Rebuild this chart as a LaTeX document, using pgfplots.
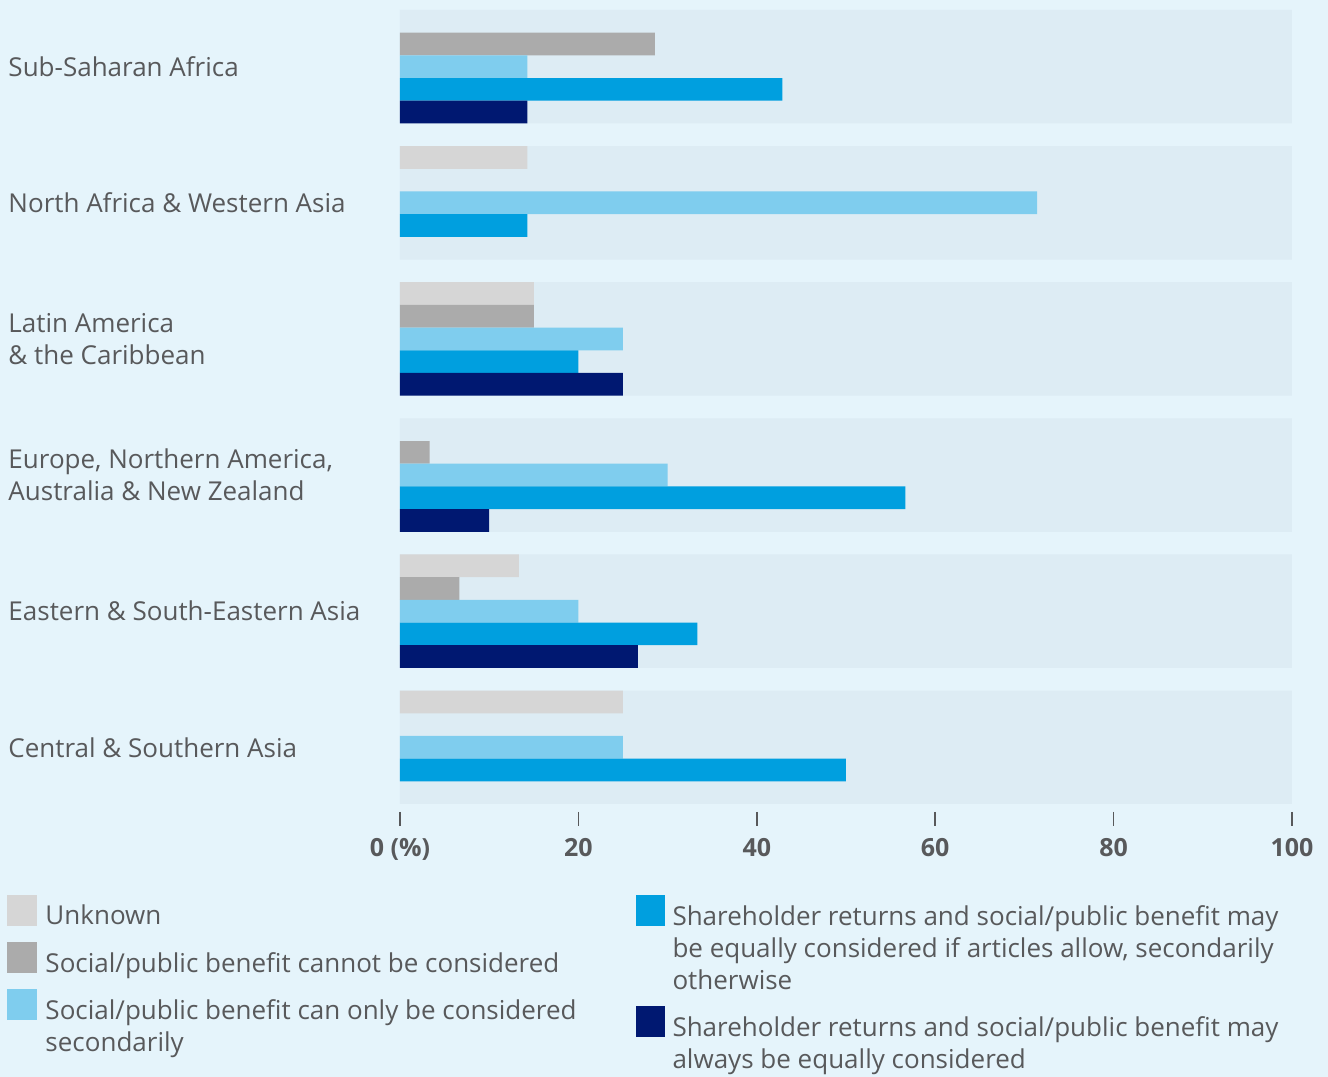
\documentclass[border=0pt]{standalone}
\usepackage{pgfplots}
\pgfplotsset{compat=1.18}
\usepackage{fontspec}
\setmainfont{Open Sans}
\definecolor{bgc}{HTML}{E5F4FB}
\definecolor{panel}{HTML}{DDECF4}
\definecolor{cunk}{HTML}{D6D6D6}
\definecolor{ccan}{HTML}{ABABAB}
\definecolor{csec}{HTML}{7FCDEE}
\definecolor{call}{HTML}{009FDF}
\definecolor{calw}{HTML}{001871}
\definecolor{txt}{HTML}{58595B}
\begin{document}
\begin{tikzpicture}[font=\fontsize{10.4}{12.8}\selectfont]
\fill[bgc] (0,0) rectangle (531.2pt,430.8pt);
\useasboundingbox (0,0) rectangle (531.2pt,430.8pt);
\begin{axis}[
  at={(160pt,109.2pt)}, anchor=south west,
  scale only axis, width=356.8pt, height=317.6pt,
  xmin=0, xmax=100, ymin=-2.5, ymax=32.5, y dir=reverse,
  axis line style={draw=none},
  xtick={0,20,40,60,80,100},
  xticklabels={0 (\%),20,40,60,80,100},
  ytick={0,6,12,18,24,30},
  yticklabels={Sub-Saharan Africa,North Africa \& Western Asia,Latin America\\\& the Caribbean,{Europe, Northern America,}\\Australia \& New Zealand,Eastern \& South-Eastern Asia,Central \& Southern Asia},
  major tick length=0pt,
  tick style={draw=none},
  xticklabel style={anchor=base, yshift=-21.2pt, font=\fontsize{10}{12}\selectfont\bfseries, text=txt},
  yticklabel style={anchor=west, xshift=-156.8pt, inner sep=0pt, align=left, text=txt, font=\fontsize{10.4}{12.8}\selectfont},
  xbar, bar shift=0pt, bar width=1,
  clip=false,
]
\addplot[fill=panel, draw=none, bar width=5] coordinates {(100,0) (100,6) (100,12) (100,18) (100,24) (100,30)};
\addplot[fill=cunk, draw=none] coordinates {(14.29,4) (15,10) (13.33,22) (25,28)};
\addplot[fill=ccan, draw=none] coordinates {(28.57,-1) (15,11) (3.33,17) (6.67,23)};
\addplot[fill=csec, draw=none] coordinates {(14.29,0) (71.43,6) (25,12) (30,18) (20,24) (25,30)};
\addplot[fill=call, draw=none] coordinates {(42.86,1) (14.29,7) (20,13) (56.67,19) (33.33,25) (50,31)};
\addplot[fill=calw, draw=none] coordinates {(14.29,2) (25,14) (10,20) (26.67,26)};
\pgfplotsinvokeforeach{0,20,40,60,80,100}{
  \draw[txt, line width=0.7pt] (axis cs:#1,32.85) -- (axis cs:#1,33.47);
}
\end{axis}
% legend
\begin{scope}[every node/.style={anchor=base west, inner sep=0pt, text=txt}]
\fill[cunk] (2.8pt,{(1077-926)*0.4pt}) rectangle (14.8pt,{(1077-895)*0.4pt});
\node at (18pt,{(1077-925)*0.4pt}) {Unknown};
\fill[ccan] (2.8pt,{(1077-973)*0.4pt}) rectangle (14.8pt,{(1077-942)*0.4pt});
\node at (18pt,{(1077-973)*0.4pt}) {Social/public benefit cannot be considered};
\fill[csec] (2.8pt,{(1077-1020)*0.4pt}) rectangle (14.8pt,{(1077-989)*0.4pt});
\node at (18pt,{(1077-1020)*0.4pt}) {Social/public benefit can only be considered};
\node at (18pt,{(1077-1052)*0.4pt}) {secondarily};
\fill[call] (254.4pt,{(1077-926)*0.4pt}) rectangle (266pt,{(1077-895)*0.4pt});
\node at (268.8pt,{(1077-926)*0.4pt}) {Shareholder returns and social/public benefit may};
\node at (268.8pt,{(1077-958)*0.4pt}) {be equally considered if articles allow, secondarily};
\node at (268.8pt,{(1077-990)*0.4pt}) {otherwise};
\fill[calw] (254.4pt,{(1077-1037)*0.4pt}) rectangle (266pt,{(1077-1006)*0.4pt});
\node at (268.8pt,{(1077-1037)*0.4pt}) {Shareholder returns and social/public benefit may};
\node at (268.8pt,{(1077-1069)*0.4pt}) {always be equally considered};
\end{scope}
\end{tikzpicture}
\end{document}
